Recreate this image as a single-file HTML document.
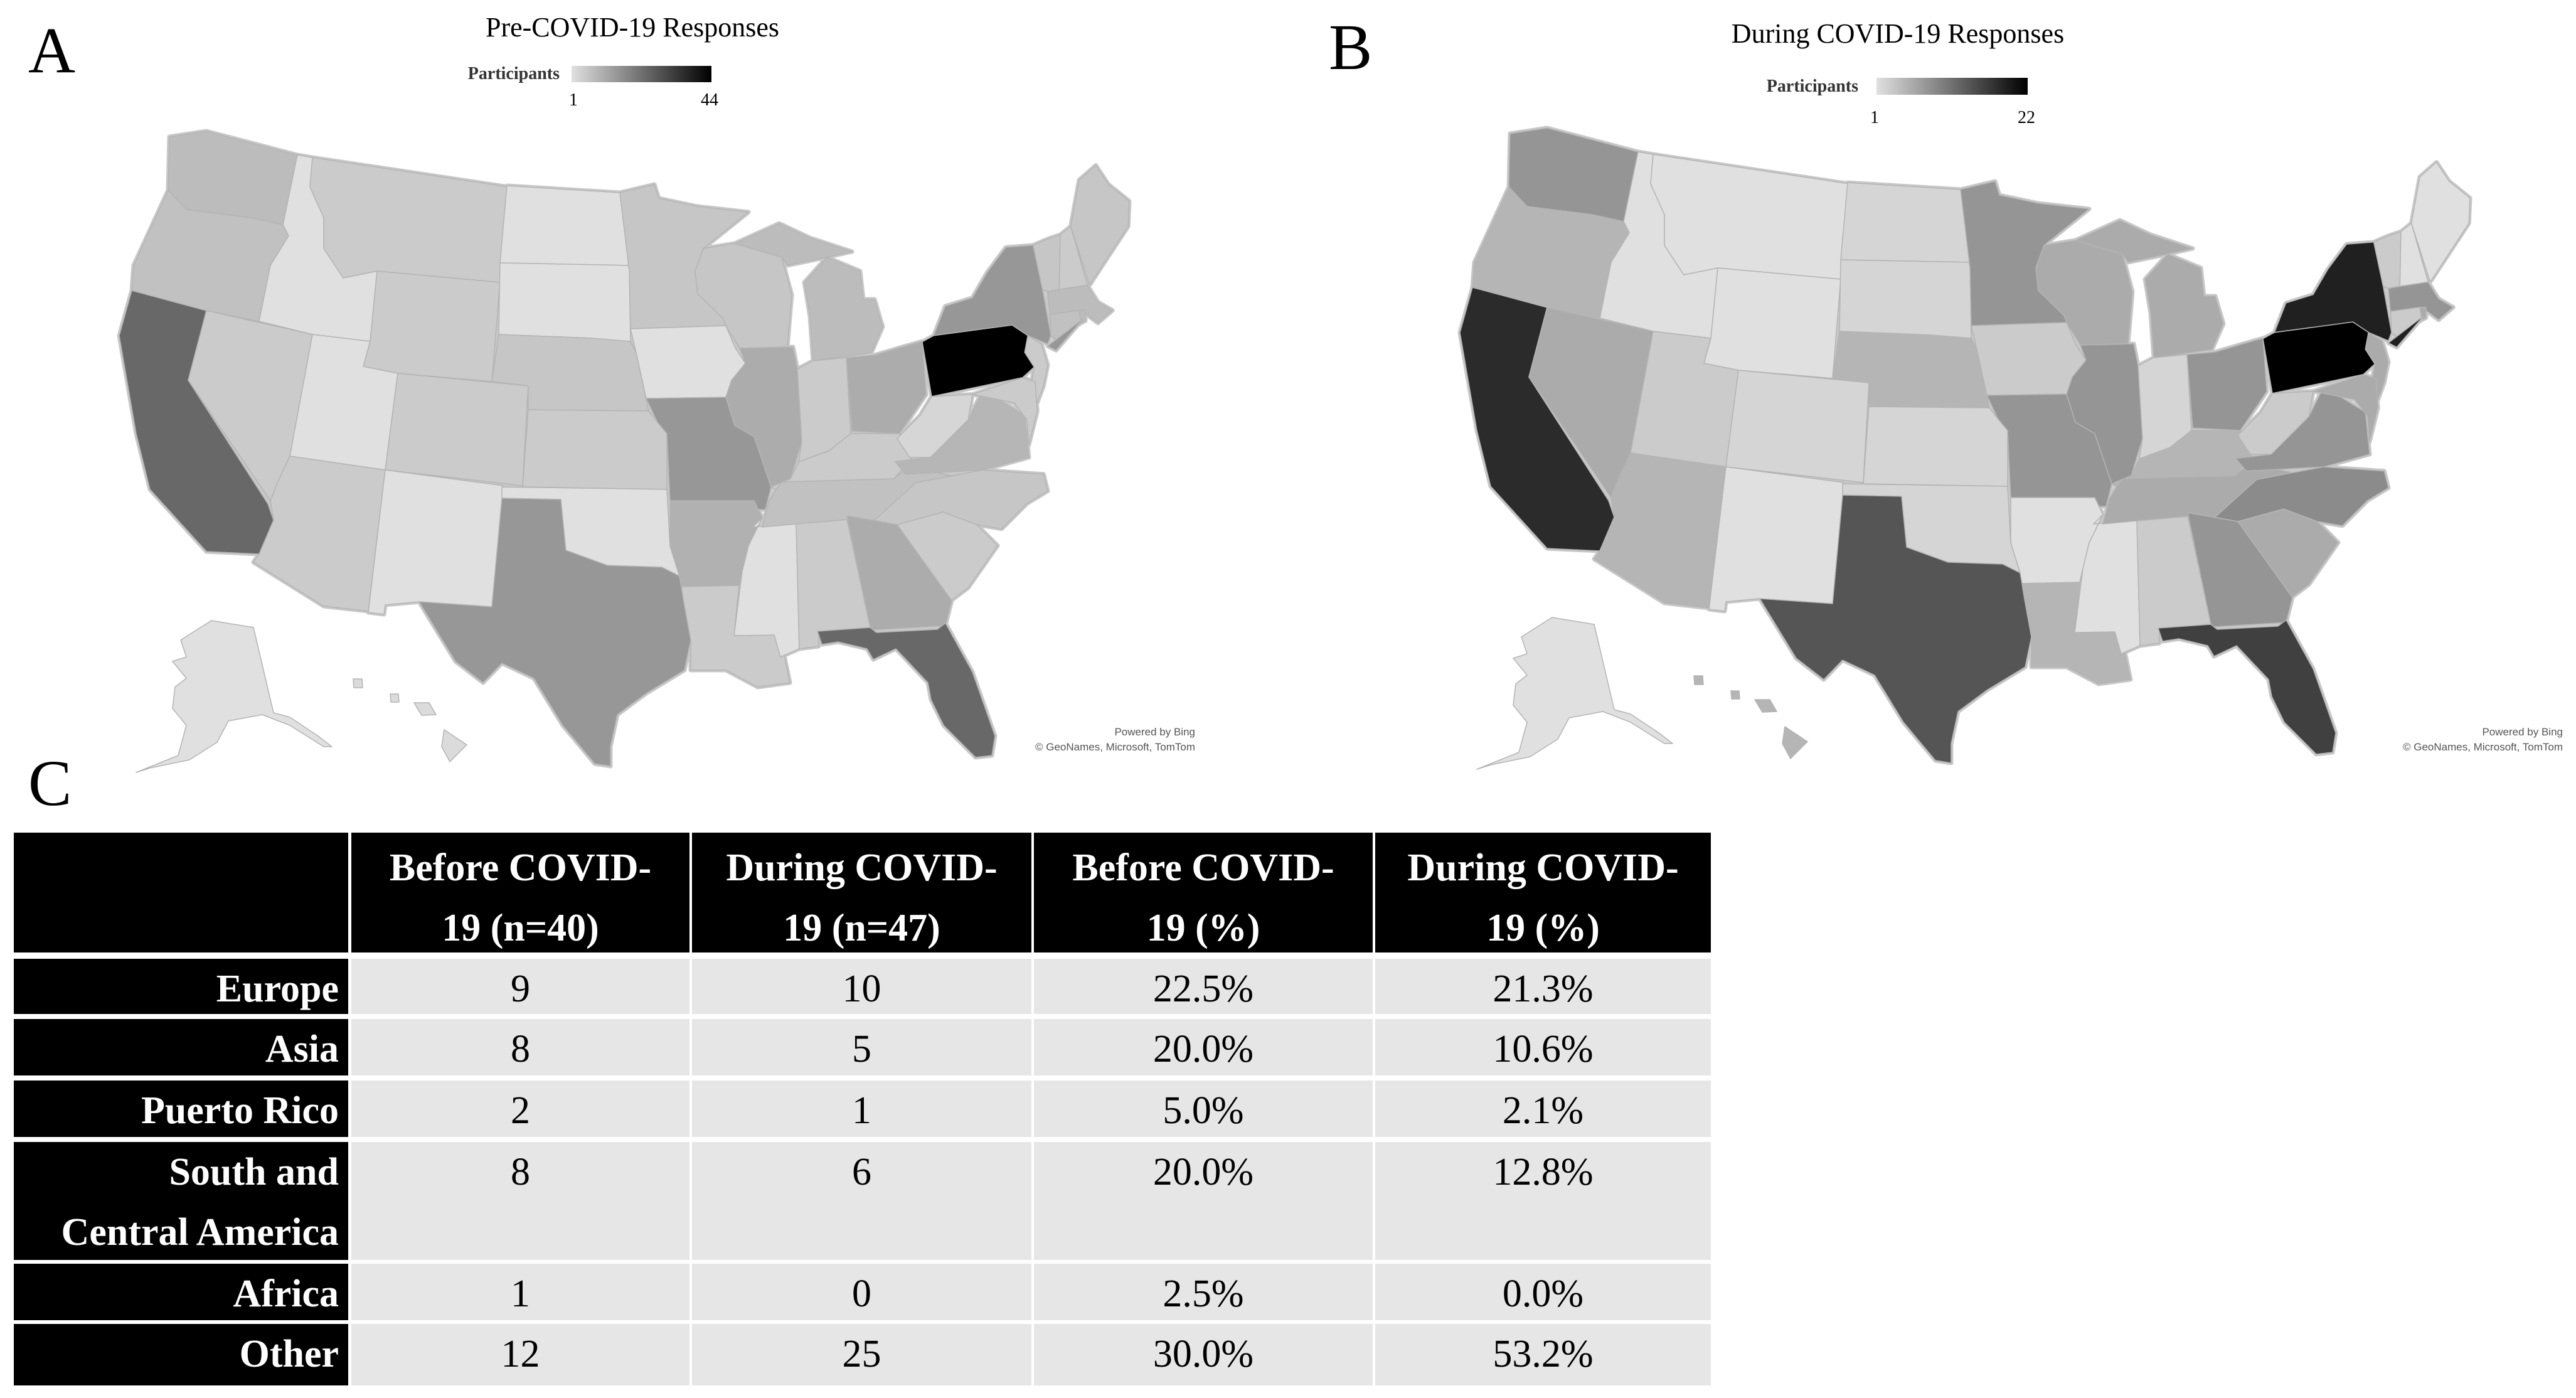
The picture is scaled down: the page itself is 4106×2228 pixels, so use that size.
<!DOCTYPE html>
<html><head><meta charset="utf-8"><style>
html,body{margin:0;padding:0;background:#fff;}
svg{display:block;}
.serif{font-family:"Liberation Serif",serif;}
</style></head><body>
<svg id="root" width="4106" height="2228" viewBox="0 0 4106 2228" xmlns="http://www.w3.org/2000/svg">
<defs>
<linearGradient id="gradA" x1="0" x2="1" y1="0" y2="0"><stop offset="0" stop-color="#e0e0e0"/><stop offset="1" stop-color="#000"/></linearGradient>
</defs>
<g class="serif">
<text x="45" y="115" font-size="104">A</text>
<text x="2118" y="110" font-size="104">B</text>
<text x="45" y="1283" font-size="104">C</text>
<text x="1008" y="58" font-size="44" text-anchor="middle">Pre-COVID-19 Responses</text>
<text x="3025" y="68" font-size="44" text-anchor="middle">During COVID-19 Responses</text>
<g>
<text x="892" y="126" font-size="28" text-anchor="end" font-weight="bold" fill="#333">Participants</text>
<rect x="911" y="105" width="223" height="26" fill="url(#gradA)"/>
<text x="914" y="168" font-size="28" text-anchor="middle">1</text>
<text x="1131" y="168" font-size="28" text-anchor="middle">44</text>
</g>
<g>
<text x="2962" y="146" font-size="28" text-anchor="end" font-weight="bold" fill="#333">Participants</text>
<rect x="2991" y="124" width="241" height="27" fill="url(#gradA)"/>
<text x="2988" y="196" font-size="28" text-anchor="middle">1</text>
<text x="3230" y="196" font-size="28" text-anchor="middle">22</text>
</g>
</g>
<g font-family="Liberation Sans,sans-serif" font-size="17" fill="#555">
<text x="1905" y="1172" text-anchor="end">Powered by Bing</text>
<text x="1905" y="1196" text-anchor="end">© GeoNames, Microsoft, TomTom</text>
<text x="4085" y="1172" text-anchor="end">Powered by Bing</text>
<text x="4085" y="1196" text-anchor="end">© GeoNames, Microsoft, TomTom</text>
</g>
<g id="mapA"></g>
<g id="mapB" transform="translate(2137,-5)"></g>
<g id="table" class="serif"></g>
</svg>
<script>
// state participant counts (estimated from shading)
const stateCodes = ["WA","OR","CA","NV","ID","MT","WY","UT","CO","AZ","NM","ND","SD","NE","KS","OK","TX","MN","IA","WI","MO","AR","LA","MS","AL","TN","KY","IL","IN","MI","MIU","OH","WV","VA","PA","NY","GA","FL","SC","NC","NJ","VT","NH","ME","MA","CT","RI","LI","MD","AK","HI"];
const preCounts =    [8,7,24,5,1,5,5,1,5,5,1,1,1,6,5,1,15,6,1,6,15,10,5,1,5,7,5,11,5,8,8,11,3,9,44,15,11,24,5,6,5,6,5,6,8,7,8,15,5,1,2];
const duringCounts = [8,5,18,6,1,1,1,3,2,5,1,2,2,5,2,2,14,8,3,6,8,1,5,1,3,6,5,8,2,6,6,8,3,8,22,19,8,16,6,9,6,3,1,1,8,3,6,19,6,1,5];
const preMax = 44, duringMax = 22;
// table data
const colHeaders = [["Before COVID-","19 (n=40)"],["During COVID-","19 (n=47)"],["Before COVID-","19 (%)"],["During COVID-","19 (%)"]];
const rowLabels = [["Europe"],["Asia"],["Puerto Rico"],["South and","Central America"],["Africa"],["Other"]];
const beforeN = [9,8,2,8,1,12];
const duringN = [10,5,1,6,0,25];
const beforePct = ["22.5%","20.0%","5.0%","20.0%","2.5%","30.0%"];
const duringPct = ["21.3%","10.6%","2.1%","12.8%","0.0%","53.2%"];

// geometry: type 0 = page px, 2 = northeast sub-space
const geo = {
WA:[0,"270,218 329,209 474,247 451,358 400,347 297,334 268,303"],
OR:[0,"268,303 297,334 400,347 451,358 460,376 431,423 413,512 329,495 210,463 213,423"],
CA:[0,"210,463 329,495 300,606 427,803 436,829 413,883 329,879 239,780 217,691 190,535"],
NV:[0,"329,495 498,533 462,727 445,763 431,798 300,606"],
ID:[0,"474,247 498,251 494,298 516,347 516,396 547,443 601,432 590,544 498,533 413,512 431,423 460,376 451,358"],
MT:[0,"498,251 811,298 797,450 601,432 547,443 516,396 516,347 494,298"],
WY:[0,"601,432 797,450 784,608 634,595 579,584 590,544"],
UT:[0,"498,533 590,544 579,584 634,595 614,749 462,727"],
CO:[0,"634,595 842,615 833,774 614,749"],
AZ:[0,"462,727 614,749 587,974 516,966 404,896 413,883 436,829 431,798 445,763"],
NM:[0,"614,749 802,774 784,967 668,959 614,964 612,979 587,976"],
ND:[0,"808,296 988,307 1003,423 797,419"],
SD:[0,"797,419 1003,423 1005,544 979,546 943,539 795,533"],
NE:[0,"795,533 943,539 1005,544 1014,562 1034,655 842,653 842,615 784,608"],
KS:[0,"842,653 1034,655 1048,673 1063,691 1063,780 833,776"],
OK:[0,"800,776 1063,780 1068,870 1083,918 1055,904 968,901 902,877 894,870 894,796 800,794"],
TX:[0,"800,794 894,796 902,877 968,901 1055,904 1083,918 1101,1020 1091,1068 1030,1105 984,1139 973,1190 973,1221 948,1217 897,1156 851,1081 800,1057 770,1088 726,1054 668,959 784,967"],
MN:[0,"988,307 1043,294 1050,316 1112,329 1193,338 1121,396 1108,432 1112,468 1153,508 1157,519 1005,524 1003,432"],
IA:[0,"1005,524 1157,519 1171,553 1188,579 1166,606 1157,633 1030,635 1014,562"],
WI:[0,"1121,396 1171,388 1246,410 1262,470 1255,553 1179,555 1157,519 1153,508 1112,468 1108,432"],
MO:[0,"1030,635 1157,633 1171,678 1202,696 1229,776 1220,812 1202,812 1202,798 1068,798 1063,691 1048,673"],
AR:[0,"1068,798 1202,798 1215,825 1193,870 1183,911 1178,933 1086,935 1083,918 1068,870"],
LA:[0,"1086,935 1178,933 1170,1013 1234,1012 1249,1040 1259,1088 1208,1095 1157,1068 1101,1068 1101,1020 1090,960"],
MS:[0,"1200,840 1269,835 1274,1034 1244,1047 1234,1012 1170,1013 1183,911 1193,870 1215,825"],
AL:[0,"1269,835 1350,828 1387,1000 1305,1006 1305,1030 1274,1034"],
TN:[0,"1225,800 1237,780 1246,768 1425,763 1452,740 1470,748 1525,760 1460,790 1393,829 1350,828 1269,835 1215,840"],
KY:[0,"1273,736 1322,718 1356,691 1434,691 1452,731 1425,763 1246,768 1237,780 1229,776 1260,763"],
IL:[0,"1179,555 1264,553 1271,588 1278,704 1260,763 1229,776 1202,696 1171,678 1157,633 1166,606 1188,579"],
IN:[0,"1271,588 1296,575 1349,570 1356,691 1322,718 1273,736 1278,704"],
MI:[0,"1282,450 1318,410 1371,432 1376,477 1394,477 1407,521 1389,562 1296,575 1291,504"],
MIU:[0,"1171,388 1242,356 1291,379 1358,401 1318,410 1255,423 1246,410"],
OH:[0,"1349,570 1394,566 1438,553 1470,544 1476,629 1434,691 1358,687"],
WV:[2,"240,745 350,690 405,645 600,640 580,700 400,790 300,790"],
VA:[2,"230,800 400,790 580,700 640,640 720,650 850,690 870,790 650,820 280,830"],
PA:[2,"360,515 415,500 790,475 865,500 850,540 895,575 840,600 405,645"],
NY:[2,"415,500 470,430 600,410 670,350 760,290 890,285 935,390 975,500 960,520 865,500 790,475"],
GA:[0,"1350,822 1430,836 1517,957 1507,997 1390,1004 1387,1000"],
FL:[0,"1303,1006 1387,1000 1397,1008 1494,1003 1507,993 1550,1071 1586,1173 1581,1204 1555,1207 1504,1156 1484,1115 1479,1088 1428,1034 1392,1051 1382,1034 1336,1023 1310,1027"],
SC:[2,"240,950 460,920 620,950 720,1000 580,1100 500,1130"],
NC:[2,"130,940 330,850 650,820 940,830 960,870 860,900 740,960 620,950 460,920 240,950"],
NJ:[2,"865,500 930,520 960,570 940,620 910,660 880,620 895,575 850,540"],
VT:[2,"890,285 960,270 1020,260 1015,390 960,395 935,390"],
NH:[2,"1020,260 1070,240 1150,380 1015,390"],
ME:[2,"1070,240 1110,130 1190,95 1250,140 1350,180 1345,240 1160,380"],
MA:[2,"960,395 1150,380 1200,420 1270,440 1200,470 1120,440 970,450"],
CT:[2,"970,450 1110,440 1120,470 1000,510 975,500"],
RI:[2,"1110,440 1140,440 1140,465 1120,470"],
LI:[2,"960,525 1130,460 1000,535"],
MD:[2,"600,640 840,600 900,610 910,680 870,760 860,700 800,660 700,650"],
AK:[0,"337,989 404,1000 436,1136 462,1143 507,1173 529,1190 516,1190 462,1156 418,1139 364,1149 346,1183 302,1211 239,1224 217,1231 284,1204 297,1156 275,1129 279,1095 297,1081 275,1054 297,1047 288,1020"],
HI:[0,"563,1082 577,1082 578,1096 564,1096 M622,1106 635,1106 636,1119 623,1119 M660,1120 684,1120 695,1139 672,1140 M708,1163 744,1187 717,1214 704,1190"]
};
const SVGNS = "http://www.w3.org/2000/svg";
function shade(v, max){ const g = Math.round(224*(1-(v-1)/(max-1))); return "rgb("+g+","+g+","+g+")"; }
function toPath(pts){ return pts.split("M").map(s=>"M"+s.trim().split(/\s+/).join(" L")+" Z").join(" "); }
function drawMap(gid, counts, max){
  const root = document.getElementById(gid);
  // underlay fills small gaps between neighbouring shapes
  const u0 = document.createElementNS(SVGNS,"g");
  const u2 = document.createElementNS(SVGNS,"g");
  u2.setAttribute("transform","translate(1350,200) scale(0.3333,0.6696)");
  const g0 = document.createElementNS(SVGNS,"g");
  const g2 = document.createElementNS(SVGNS,"g");
  g2.setAttribute("transform","translate(1350,200) scale(0.3333,0.6696)");
  root.appendChild(u0); root.appendChild(u2); root.appendChild(g0); root.appendChild(g2);
  stateCodes.forEach((c,i)=>{
    if (c==="AK"||c==="HI") return;
    const u = document.createElementNS(SVGNS,"path");
    u.setAttribute("d", toPath(geo[c][1]));
    u.setAttribute("fill", "#c8c8c8");
    u.setAttribute("stroke", "#c8c8c8");
    u.setAttribute("stroke-linejoin", "round");
    u.setAttribute("vector-effect", "non-scaling-stroke");
    u.setAttribute("stroke-width", "7");
    
    
    (geo[c][0]===0 ? u0 : u2).appendChild(u);
  });
  stateCodes.forEach((c,i)=>{
    const p = document.createElementNS(SVGNS,"path");
    p.setAttribute("d", toPath(geo[c][1]));
    p.setAttribute("fill", shade(counts[i], max));
    p.setAttribute("stroke", "#b4b4b4");
    p.setAttribute("stroke-linejoin", "round");
    p.setAttribute("vector-effect", "non-scaling-stroke");
    p.setAttribute("stroke-width", "1.5");
    
    
    (geo[c][0]===0 ? g0 : g2).appendChild(p);
  });
}
drawMap("mapA", preCounts, preMax);
drawMap("mapB", duringCounts, duringMax);

// table
const colX = [22,558,1101,1646,2190,2729];
const rowY = [[1327,1518],[1528,1616],[1624,1714],[1722,1812],[1820,2008],[2014,2104],[2110,2208]];
const tbl = document.getElementById("table");
function rect(x,y,w,h,fill,name){
  const r = document.createElementNS(SVGNS,"rect");
  r.setAttribute("x",x); r.setAttribute("y",y); r.setAttribute("width",w); r.setAttribute("height",h); r.setAttribute("fill",fill);
  
  
  tbl.appendChild(r);
}
function txt(x,y,s,anchor,fill,bold,name){
  const t = document.createElementNS(SVGNS,"text");
  t.setAttribute("x",x); t.setAttribute("y",y); t.setAttribute("text-anchor",anchor); t.setAttribute("fill",fill);
  t.setAttribute("font-size","62"); if(bold) t.setAttribute("font-weight","bold");
  t.textContent = s;
  
  
  tbl.appendChild(t);
}
rect(colX[0], rowY[0][0], colX[1]-colX[0]-3, rowY[0][1]-rowY[0][0], "#000", "header-corner");
colHeaders.forEach((h,j)=>{
  rect(colX[j+1]+2, rowY[0][0], colX[j+2]-colX[j+1]-4, rowY[0][1]-rowY[0][0], "#000", "header-cell");
  const cx = (colX[j+1]+colX[j+2])/2;
  txt(cx, rowY[0][0]+76, h[0], "middle", "#fff", true, "column-header");
  txt(cx, rowY[0][0]+172, h[1], "middle", "#fff", true, "column-header");
});
const cols = [beforeN, duringN, beforePct, duringPct];
rowLabels.forEach((lab,i)=>{
  const y0 = rowY[i+1][0], y1 = rowY[i+1][1];
  rect(colX[0], y0, colX[1]-colX[0]-3, y1-y0, "#000", "row-label-cell");
  lab.forEach((l,k)=> txt(colX[1]-18, y0+68+k*96, l, "end", "#fff", true, "row-label"));
  cols.forEach((arr,j)=>{
    rect(colX[j+1]+2, y0, colX[j+2]-colX[j+1]-4, y1-y0, "#e6e6e6", "data-cell");
    txt((colX[j+1]+colX[j+2])/2, y0+68, String(arr[i]), "middle", "#000", false, "data-value");
  });
});
</script>
</body></html>
